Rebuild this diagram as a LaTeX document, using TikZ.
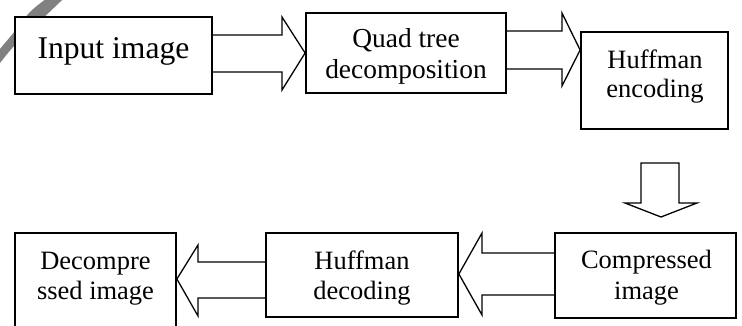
\documentclass[tikz,border=0pt]{standalone}
\usepackage{fontspec}
\setmainfont{Liberation Serif}
\usetikzlibrary{fit}
\begin{document}
\begin{tikzpicture}[x=0.03cm,y=-0.03cm,
  box/.style={draw, line width=1.5pt, fill=white, inner sep=0pt},
  txt/.style={inner sep=0pt, anchor=base, font=\fontsize{22.6}{25.6}\selectfont},
  bigtxt/.style={inner sep=0pt, anchor=base, font=\fontsize{27}{30}\selectfont},
  blockarrow/.style={draw, line width=1.1pt, line join=miter}]
\clip (0,0) rectangle (742,325);
% grey swoosh in the corner (filled band)
\fill[black!50] plot[smooth] coordinates {(-6,57) (0,49) (15,31) (30,12) (47,-2) (52,-6)}
  -- plot[smooth] coordinates {(66,-6) (62,0) (40,21) (15,45) (0,63) (-6,72)} -- cycle;
% boxes
\node[box, fit={(15,17) (212,94)}] (in) {};
\node[box, fit={(306,13) (506,93)}] (qt) {};
\node[box, fit={(581,32) (728,129)}] (enc) {};
\node[box, fit={(555,233) (736,318)}] (comp) {};
\node[box, fit={(266,233) (458,317)}] (dec) {};
\node[box, fit={(15,233) (176,345)}] (dcmp) {};
% texts
\node[bigtxt] (inT) at (113.5,58) {Input image};
\node[txt, font=\fontsize{23.4}{25.6}\selectfont] (qtA) at (406,47) {Quad tree};
\node[txt, font=\fontsize{23.4}{25.6}\selectfont] (qtB) at (406,78.5) {decomposition};
\node[txt] (encA) at (655,68) {Huffman};
\node[txt] (encB) at (655,97) {encoding};
\node[txt] (compA) at (646.5,268) {Compressed};
\node[txt] (compB) at (646.5,299) {image};
\node[txt] (decA) at (362,269) {Huffman};
\node[txt] (decB) at (362,299) {decoding};
\node[txt] (dcmpA) at (95.5,269) {Decompre};
\node[txt] (dcmpB) at (95.5,299) {ssed image};
% block arrows
\draw[blockarrow] (in.east |- 0,35) -- (282,35) -- (282,17) -- (qt.west |- 0,53) -- (282,90) -- (282,72) -- (in.east |- 0,72);
\draw[blockarrow] (qt.east |- 0,31) -- (562,31) -- (562,13) -- (enc.west |- 0,50) -- (562,86) -- (562,69) -- (qt.east |- 0,69);
\draw[blockarrow] (641,163) -- (679,163) -- (679,203) -- (697,203) -- (661,217) -- (625,203) -- (641,203) -- cycle;
\draw[blockarrow] (comp.west |- 0,253) -- (482,253) -- (482,233) -- (dec.east |- 0,274) -- (482,315) -- (482,295) -- (comp.west |- 0,295);
\draw[blockarrow] (dec.west |- 0,262) -- (198,262) -- (198,245) -- (dcmp.east |- 0,279) -- (198,316) -- (198,298) -- (dec.west |- 0,298);
\end{tikzpicture}
\end{document}
